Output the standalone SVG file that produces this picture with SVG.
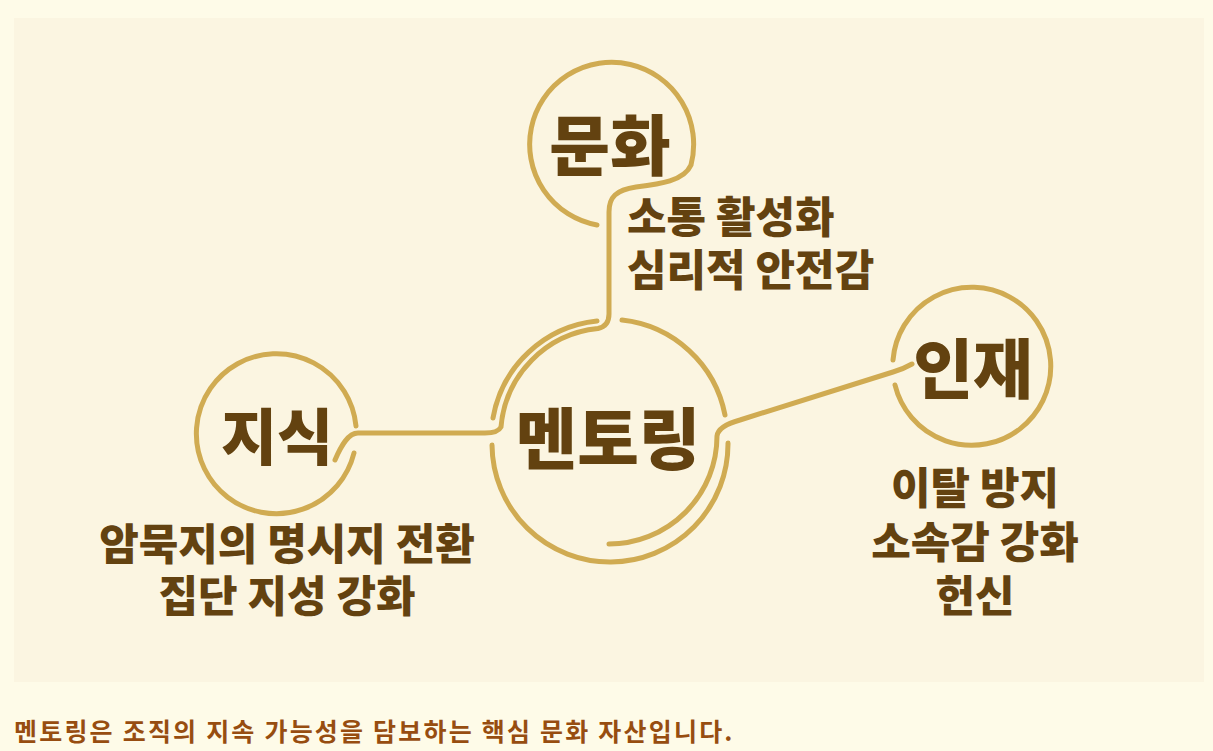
<svg xmlns="http://www.w3.org/2000/svg" width="1213" height="751" viewBox="0 0 1213 751">
<defs>
<style>
.ln{fill:none;stroke:#d0ab52;stroke-width:5;stroke-linecap:round;stroke-linejoin:round}
.t{font-family:"Noto Sans CJK KR","Noto Sans",sans-serif;font-weight:900;fill:#634210;text-anchor:middle}
.sub{font-size:43px}
.st{text-anchor:start}
.foot{font-family:"Noto Sans CJK KR","Noto Sans",sans-serif;font-weight:700;fill:#974d10;font-size:25px;letter-spacing:2.2px}
</style>
</defs>
<rect width="1213" height="751" fill="#fefbe8"/>
<rect x="14" y="18" width="1190" height="664" fill="#fbf5e1"/>
<g id="connectors">
<path class="ln" d="M597,225 A82,82 0 1 1 691,165 C684,181 660,184 636,187 C616,190 609,197 609,212 L609,314 C609,322 605,327 598,328.5 A108,108 0 0 0 501,427 C499,431 494,433 485,433 L358,433 C348,433 341,446 335,460"/>
<path class="ln" d="M912,364 C905,368 900,370 893,372 L740,420 C729,423 718,428 717,436 A108,108 0 0 1 609,544"/>
</g>
<g id="node-mentoring">
<path class="ln" d="M597,321 A118,118 0 0 0 493,418"/>
<path class="ln" d="M622,320 A118,118 0 0 1 725,415"/>
<path class="ln" d="M492,445 A118,118 0 0 0 728,443"/>
<text class="t" x="608" y="464" font-size="67">멘토링</text>
</g>
<g id="node-culture">
<text class="t" x="610" y="170" font-size="66">문화</text>
<text class="t sub st" x="627" y="233"><tspan x="627">소통 활성화</tspan><tspan x="627" dy="53">심리적 안전감</tspan></text>
</g>
<g id="node-knowledge">
<path class="ln" d="M356,426 A80,80 0 1 0 354,453"/>
<text class="t" x="277" y="460" font-size="61">지식</text>
<text class="t sub" x="287" y="560"><tspan x="287">암묵지의 명시지 전환</tspan><tspan x="287" dy="52">집단 지성 강화</tspan></text>
</g>
<g id="node-talent">
<path class="ln" d="M893,360 A79,79 0 1 1 895,385"/>
<text class="t" x="973" y="393" font-size="65">인재</text>
<text class="t sub" x="975" y="504"><tspan x="975">이탈 방지</tspan><tspan x="975" dy="54">소속감 강화</tspan><tspan x="975" dy="54">헌신</tspan></text>
</g>
<text class="foot" x="14" y="741">멘토링은 조직의 지속 가능성을 담보하는 핵심 문화 자산입니다.</text>
</svg>
